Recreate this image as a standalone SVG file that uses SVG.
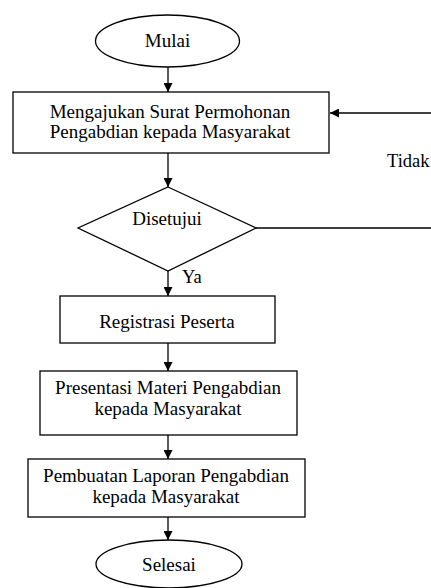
<svg xmlns="http://www.w3.org/2000/svg" width="431" height="588" viewBox="0 0 431 588">
<defs>
<marker id="ah" viewBox="0 0 10 10" refX="10" refY="5" markerWidth="9" markerHeight="9" markerUnits="userSpaceOnUse" orient="auto">
<path d="M0,0 L10,5 L0,10 Z" fill="#000"/>
</marker>
</defs>
<rect width="431" height="588" fill="#fff"/>
<g id="connectors" fill="none" stroke="#000" stroke-width="1.3">
<line x1="168" y1="67" x2="168" y2="92" marker-end="url(#ah)"/>
<line x1="168" y1="153" x2="168" y2="187" marker-end="url(#ah)"/>
<line x1="168" y1="271" x2="168" y2="296" marker-end="url(#ah)"/>
<line x1="168" y1="343" x2="168" y2="371" marker-end="url(#ah)"/>
<line x1="168" y1="435" x2="168" y2="459" marker-end="url(#ah)"/>
<line x1="168" y1="517" x2="168" y2="540" marker-end="url(#ah)"/>
<line x1="256" y1="228" x2="432" y2="228"/>
<line x1="432" y1="113" x2="330" y2="113" marker-end="url(#ah)"/>
</g>
<text x="182" y="283" font-family="Times New Roman" font-size="18.5">Ya</text>
<text x="387" y="167" font-family="Times New Roman" font-size="18.5">Tidak</text>
<g id="mulai">
<ellipse cx="167.5" cy="41" rx="72" ry="26" fill="#fff" stroke="#000" stroke-width="1.3"/>
<text x="167.5" y="47" text-anchor="middle" font-family="Times New Roman" font-size="19">Mulai</text>
</g>
<g id="mengajukan">
<rect x="13" y="92" width="316" height="61" fill="#fff" stroke="#000" stroke-width="1.3"/>
<text x="170" y="118" text-anchor="middle" font-family="Times New Roman" font-size="19">Mengajukan Surat Permohonan</text>
<text x="170" y="138" text-anchor="middle" font-family="Times New Roman" font-size="19">Pengabdian kepada Masyarakat</text>
</g>
<g id="disetujui">
<polygon points="168,187 256,228 168,271 78,228" fill="#fff" stroke="#000" stroke-width="1.3"/>
<text x="167" y="225" text-anchor="middle" font-family="Times New Roman" font-size="19">Disetujui</text>
</g>
<g id="registrasi">
<rect x="60" y="296" width="215" height="47" fill="#fff" stroke="#000" stroke-width="1.3"/>
<text x="167" y="328" text-anchor="middle" font-family="Times New Roman" font-size="19">Registrasi Peserta</text>
</g>
<g id="presentasi">
<rect x="40" y="371" width="257" height="64" fill="#fff" stroke="#000" stroke-width="1.3"/>
<text x="168" y="394" text-anchor="middle" font-family="Times New Roman" font-size="19">Presentasi Materi Pengabdian</text>
<text x="168" y="415" text-anchor="middle" font-family="Times New Roman" font-size="19">kepada Masyarakat</text>
</g>
<g id="pembuatan">
<rect x="28" y="459" width="277" height="58" fill="#fff" stroke="#000" stroke-width="1.3"/>
<text x="166" y="482" text-anchor="middle" font-family="Times New Roman" font-size="19">Pembuatan Laporan Pengabdian</text>
<text x="166" y="503" text-anchor="middle" font-family="Times New Roman" font-size="19">kepada Masyarakat</text>
</g>
<g id="selesai">
<ellipse cx="169" cy="564" rx="73" ry="24" fill="#fff" stroke="#000" stroke-width="1.3"/>
<text x="169" y="571" text-anchor="middle" font-family="Times New Roman" font-size="19">Selesai</text>
</g>
</svg>
